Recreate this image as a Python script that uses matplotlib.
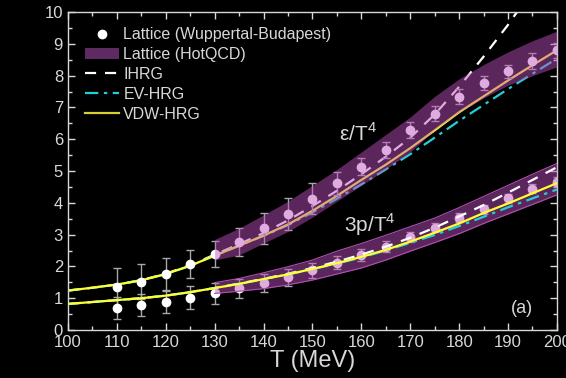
import numpy as np
import matplotlib
matplotlib.use("Agg")
import matplotlib.pyplot as plt
from matplotlib.ticker import MultipleLocator
from matplotlib.patches import Patch
from matplotlib.lines import Line2D

# Wuppertal-Budapest lattice points
T_wb = [110, 115, 120, 125, 130, 135, 140, 145, 150, 155, 160, 165, 170, 175, 180, 185, 190, 195, 200]
e_wb = [1.35, 1.52, 1.76, 2.07, 2.39, 2.78, 3.20, 3.66, 4.13, 4.61, 5.14, 5.66, 6.29, 6.81, 7.34, 7.76, 8.14, 8.46, 8.80]
e_err = [0.60, 0.55, 0.50, 0.45, 0.42, 0.44, 0.49, 0.50, 0.48, 0.37, 0.26, 0.25, 0.26, 0.25, 0.23, 0.22, 0.21, 0.24, 0.24]
p_wb = [0.70, 0.79, 0.88, 1.02, 1.15, 1.31, 1.48, 1.66, 1.88, 2.12, 2.36, 2.62, 2.93, 3.22, 3.53, 3.80, 4.14, 4.45, 4.66]
p_err = [0.35, 0.35, 0.36, 0.35, 0.32, 0.30, 0.29, 0.27, 0.24, 0.20, 0.20, 0.17, 0.15, 0.15, 0.14, 0.14, 0.14, 0.14, 0.14]

# HotQCD bands
T_band = [130, 135, 140, 145, 150, 155, 160, 165, 170, 175, 180, 185, 190, 195, 200]
e_lo = [2.20, 2.36, 2.73, 3.10, 3.55, 4.05, 4.55, 5.05, 5.60, 6.30, 6.85, 7.30, 7.70, 8.00, 8.28]
e_hi = [2.85, 3.20, 3.62, 4.05, 4.55, 5.05, 5.60, 6.15, 6.70, 7.35, 7.90, 8.35, 8.75, 9.10, 9.40]
p_lo = [1.15, 1.22, 1.30, 1.42, 1.57, 1.76, 1.95, 2.20, 2.48, 2.75, 3.03, 3.35, 3.65, 3.95, 4.25]
p_hi = [1.49, 1.62, 1.80, 1.99, 2.20, 2.48, 2.72, 2.98, 3.25, 3.52, 3.85, 4.20, 4.55, 4.90, 5.24]

# HRG model curves
T_m = [100, 105, 110, 115, 120, 125, 130, 135, 140, 145, 150, 155, 160, 165, 170, 175, 180, 185, 190, 195, 200]
e_ihrg = [1.24, 1.33, 1.43, 1.57, 1.77, 2.04, 2.37, 2.70, 3.05, 3.45, 3.90, 4.38, 4.90, 5.45, 6.05, 6.78, 7.65, 8.60, 9.60, 10.7, 11.8]
e_ev = [1.24, 1.33, 1.43, 1.56, 1.76, 2.02, 2.34, 2.65, 2.96, 3.30, 3.70, 4.13, 4.58, 5.05, 5.53, 6.05, 6.58, 7.08, 7.58, 8.06, 8.54]
e_vdw = [1.24, 1.33, 1.43, 1.56, 1.76, 2.02, 2.34, 2.65, 2.97, 3.32, 3.75, 4.22, 4.72, 5.20, 5.72, 6.28, 6.85, 7.35, 7.85, 8.33, 8.80]
p_ihrg = [0.82, 0.88, 0.94, 1.00, 1.08, 1.19, 1.32, 1.46, 1.61, 1.77, 1.95, 2.15, 2.37, 2.62, 2.90, 3.22, 3.57, 3.93, 4.32, 4.72, 5.12]
p_ev = [0.82, 0.88, 0.94, 1.00, 1.08, 1.19, 1.32, 1.45, 1.60, 1.75, 1.91, 2.09, 2.28, 2.50, 2.74, 2.99, 3.27, 3.56, 3.86, 4.14, 4.42]
p_vdw = [0.82, 0.88, 0.94, 1.00, 1.08, 1.19, 1.32, 1.45, 1.60, 1.75, 1.92, 2.10, 2.30, 2.52, 2.78, 3.06, 3.35, 3.68, 3.98, 4.30, 4.62]

fg = '#d8d8d8'
plt.rcParams['font.family'] = ['Liberation Sans', 'DejaVu Sans']
plt.rcParams['mathtext.fontset'] = 'custom'
plt.rcParams['mathtext.rm'] = 'Liberation Sans'

fig = plt.figure(figsize=(5.66, 3.78), dpi=100, facecolor='black')
ax = fig.add_axes([0.120, 0.127, 0.864, 0.841], facecolor='black')

dash = (0, (5, 4))
dashdot = (0, (6, 2.5, 1.5, 2.5))

# model lines for energy density (below band)
ax.plot(T_m, e_ihrg, color='white', ls=dash, lw=1.6, zorder=2)
ax.plot(T_m, e_ev, color='#20d0d8', ls=dashdot, lw=1.6, zorder=2)
ax.plot(T_m, e_vdw, color='#ffff30', lw=1.6, zorder=2)

ax.errorbar(T_wb, e_wb, yerr=e_err, fmt='o', color='white', ecolor='#a8a8a8',
            ms=6, elinewidth=1, capsize=3, capthick=1, zorder=2)
ax.errorbar(T_wb, p_wb, yerr=p_err, fmt='o', color='white', ecolor='#a8a8a8',
            ms=6, elinewidth=1, capsize=3, capthick=1, zorder=2)

ax.fill_between(T_band, e_lo, e_hi, color='#c050c0', alpha=0.48, lw=0, zorder=3)
ax.fill_between(T_band, p_lo, p_hi, color='#c050c0', alpha=0.48, lw=0, zorder=3)
ax.plot(T_band, p_lo, color='#b050b0', lw=0.8, zorder=3)
ax.plot(T_band, p_hi, color='#b050b0', lw=0.8, zorder=3)

# model lines for pressure (above band)
ax.plot(T_m, p_ihrg, color='white', ls=dash, lw=1.6, zorder=4)
ax.plot(T_m, p_ev, color='#20d0d8', ls=dashdot, lw=1.6, zorder=4)
ax.plot(T_m, p_vdw, color='#ffff30', lw=1.6, zorder=4)

ax.set_xlim(100, 200)
ax.set_ylim(0, 10)
ax.xaxis.set_major_locator(MultipleLocator(10))
ax.xaxis.set_minor_locator(MultipleLocator(5))
ax.yaxis.set_major_locator(MultipleLocator(1))
ax.yaxis.set_minor_locator(MultipleLocator(0.5))
ax.tick_params(which='both', direction='in', top=True, right=True, colors=fg,
               labelsize=12, width=1)
ax.tick_params(which='major', length=5)
ax.tick_params(which='minor', length=3)
for s in ax.spines.values():
    s.set_color(fg)
    s.set_linewidth(1)

ax.set_xlabel('T (MeV)', color=fg, fontsize=17, labelpad=0)

ax.text(0.555, 0.595, 'ε/T$^4$', transform=ax.transAxes, color=fg, fontsize=15)
ax.text(0.565, 0.31, '3p/T$^4$', transform=ax.transAxes, color=fg, fontsize=15)
ax.text(0.905, 0.055, '(a)', transform=ax.transAxes, color=fg, fontsize=13)

handles = [
    Line2D([], [], marker='o', ls='none', color='white', ms=6),
    Patch(facecolor='#5e2a62', edgecolor='none'),
    Line2D([], [], color='white', ls=dash, lw=1.6),
    Line2D([], [], color='#20d0d8', ls=dashdot, lw=1.6),
    Line2D([], [], color='#d8d030', lw=1.6),
]
labels = ['Lattice (Wuppertal-Budapest)', 'Lattice (HotQCD)', 'IHRG', 'EV-HRG', 'VDW-HRG']
leg = ax.legend(handles, labels, loc='upper left', bbox_to_anchor=(0.035, 0.952),
                frameon=False, fontsize=11.5, handlelength=2.1, labelspacing=0.3,
                handletextpad=0.3, borderaxespad=0, borderpad=0)
for t in leg.get_texts():
    t.set_color(fg)

fig.savefig('out.png', dpi=100, facecolor='black')
